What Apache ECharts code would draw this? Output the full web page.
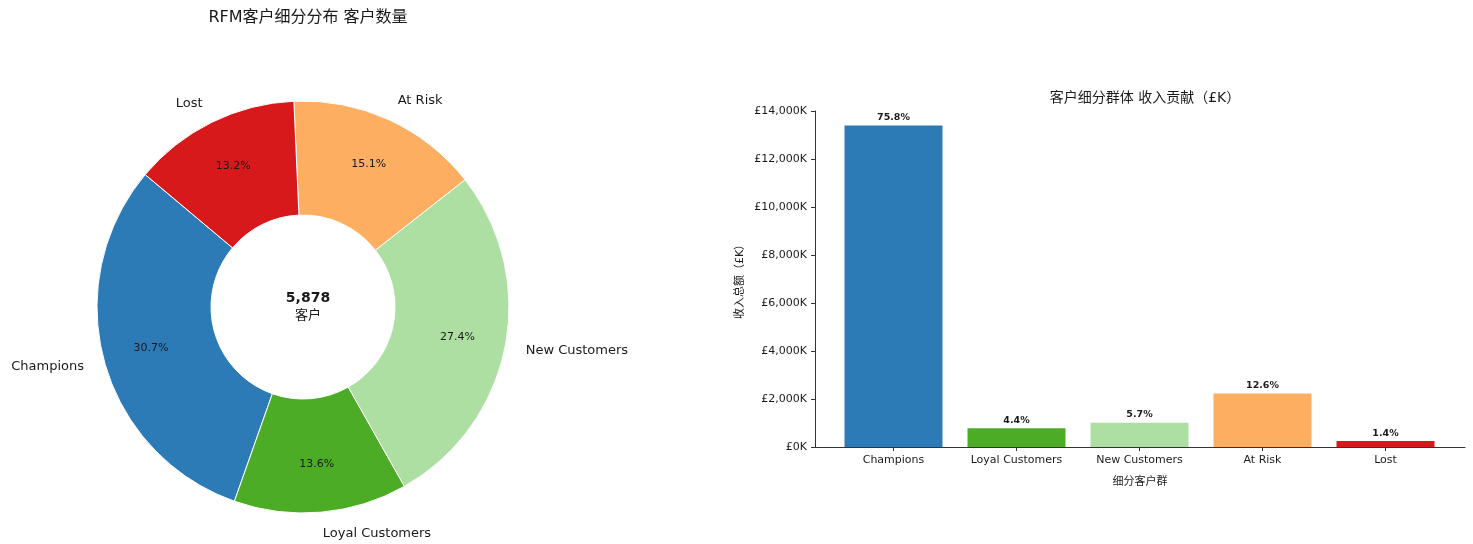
<!DOCTYPE html>
<html>
<head>
<meta charset="utf-8">
<style>
  html, body { margin: 0; padding: 0; background: #fff; }
  #chart { width: 1473px; height: 544px; }
</style>
<script src="https://cdn.jsdelivr.net/npm/echarts@6/dist/echarts.min.js"></script>
</head>
<body>
<div id="chart"></div>
<script>
// Segment names, customer counts and revenue (in £K) per RFM segment
const segments = ['Champions', 'Loyal Customers', 'New Customers', 'At Risk', 'Lost'];
const customerCounts = [1805, 799, 1611, 888, 775];
const revenueK = [13400, 780, 1010, 2230, 250];
const segmentColors = ['#2c7bb6', '#4dac26', '#addfa3', '#fdae61', '#d7191c'];
const revenueTicks = { min: 0, max: 14000, interval: 2000 };

const FONT = "'DejaVu Sans', 'Noto Sans CJK SC', sans-serif";
const TEXT = '#1a1a1a';

const totalCustomers = customerCounts.reduce((a, b) => a + b, 0);
const totalRevenue = revenueK.reduce((a, b) => a + b, 0);

const pieData = segments.map((name, i) => ({
  name, value: customerCounts[i], itemStyle: { color: segmentColors[i] }
}));
const barData = segments.map((name, i) => ({
  value: revenueK[i], itemStyle: { color: segmentColors[i] }
}));

const chart = echarts.init(document.getElementById('chart'), null, { renderer: 'canvas' });

chart.setOption({
  animation: false,
  backgroundColor: '#fff',
  textStyle: { fontFamily: FONT },
  title: [
    {
      text: 'RFM客户细分分布 客户数量',
      left: 303, top: 5, textAlign: 'center',
      textStyle: { fontFamily: FONT, fontSize: 16, fontWeight: 'normal', color: TEXT }
    },
    {
      text: '客户细分群体 收入贡献（£K）',
      left: 1140, top: 86, textAlign: 'center',
      textStyle: { fontFamily: FONT, fontSize: 14, fontWeight: 'normal', color: TEXT }
    },
    {
      // total customer count in the middle of the donut
      text: '{n|' + totalCustomers.toLocaleString('en-US') + '}\n{u|客户}',
      left: 303, top: 284, textAlign: 'center',
      textStyle: {
        fontWeight: 'normal',
        rich: {
          n: { fontFamily: FONT, fontSize: 14, fontWeight: 'bold', color: TEXT, lineHeight: 18 },
          u: { fontFamily: FONT, fontSize: 13, fontWeight: 'normal', color: TEXT, lineHeight: 18 }
        }
      }
    }
  ],
  grid: [
    // frame with spines and y ticks
    { left: 815, right: 8, top: 111, bottom: 97 },
    // bar area, one band per category
    { left: 832, width: 615, top: 111, bottom: 97 }
  ],
  xAxis: [
    {
      gridIndex: 0, type: 'value', min: 0, max: 1,
      axisLine: { show: true, lineStyle: { color: '#333', width: 1 } },
      axisTick: { show: false }, axisLabel: { show: false }, splitLine: { show: false },
      name: '细分客户群', nameLocation: 'middle', nameGap: 30,
      nameTextStyle: { fontFamily: FONT, fontSize: 11, color: TEXT }
    },
    {
      gridIndex: 1, type: 'category', data: segments,
      axisLine: { show: false },
      axisTick: { show: true, alignWithLabel: true, length: 4, lineStyle: { color: '#333' } },
      axisLabel: { fontFamily: FONT, fontSize: 11, color: TEXT, margin: 8, interval: 0 },
      splitLine: { show: false }
    }
  ],
  yAxis: [
    {
      gridIndex: 0, type: 'value',
      min: revenueTicks.min, max: revenueTicks.max, interval: revenueTicks.interval,
      axisLine: { show: true, lineStyle: { color: '#333', width: 1 } },
      axisTick: { show: true, length: 4, lineStyle: { color: '#333' } },
      axisLabel: {
        fontFamily: FONT, fontSize: 11, color: TEXT, margin: 8,
        formatter: v => '£' + v.toLocaleString('en-US') + 'K'
      },
      splitLine: { show: false },
      name: '收入总额（£K）', nameLocation: 'middle', nameGap: 69,
      nameTextStyle: { fontFamily: FONT, fontSize: 11, color: TEXT }
    },
    {
      gridIndex: 1, type: 'value',
      min: revenueTicks.min, max: revenueTicks.max, interval: revenueTicks.interval,
      show: false
    }
  ],
  series: [
    {
      // donut wedges with segment names outside
      type: 'pie',
      center: [303, 307],
      radius: [92, 206],
      startAngle: 140,
      clockwise: false,
      avoidLabelOverlap: false,
      silent: true,
      itemStyle: { borderColor: '#fff', borderWidth: 1 },
      label: {
        show: true, position: 'outside', formatter: '{b}',
        fontFamily: FONT, fontSize: 13, color: TEXT,
        distanceToLabelLine: 0
      },
      labelLine: { show: false, length: 21, length2: 0 },
      emphasis: { disabled: true },
      data: pieData
    },
    {
      // percentage labels inside the ring
      type: 'pie',
      center: [303, 307],
      radius: [103, 206],
      startAngle: 140,
      clockwise: false,
      silent: true,
      percentPrecision: 1,
      itemStyle: { color: 'rgba(0,0,0,0)' },
      label: {
        show: true, position: 'inside', formatter: '{d}%',
        fontFamily: FONT, fontSize: 11, color: TEXT
      },
      labelLine: { show: false },
      emphasis: { disabled: true },
      data: pieData.map(d => ({ name: d.name, value: d.value }))
    },
    {
      type: 'bar',
      xAxisIndex: 1, yAxisIndex: 1,
      barWidth: 98,
      data: barData,
      label: {
        show: true, position: 'top', distance: 3,
        fontFamily: FONT, fontSize: 9.5, fontWeight: 'bold', color: TEXT,
        formatter: p => (p.value / totalRevenue * 100).toFixed(1) + '%'
      },
      emphasis: { disabled: true }
    }
  ]
});
</script>
</body>
</html>
